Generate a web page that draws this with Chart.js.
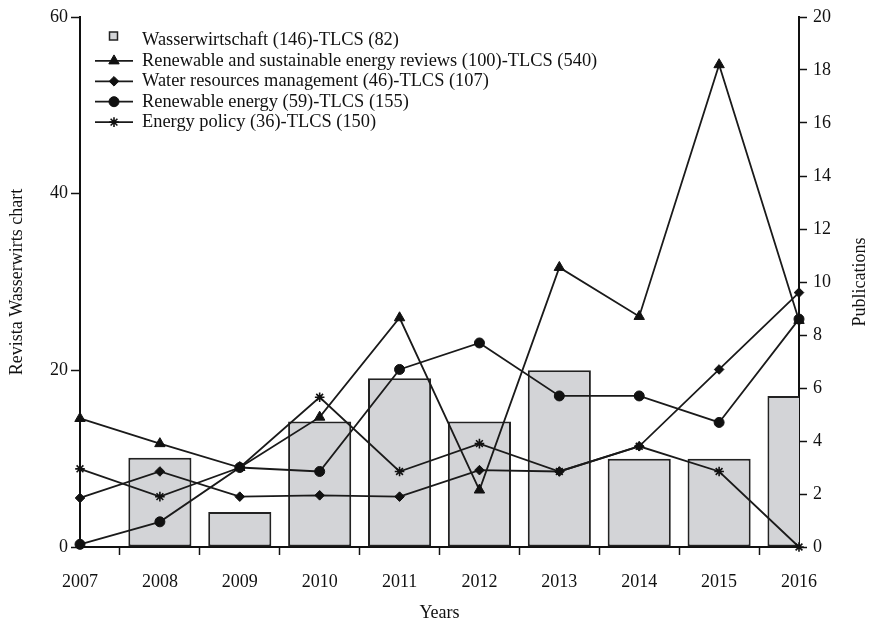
<!DOCTYPE html>
<html>
<head>
<meta charset="utf-8">
<script src="https://cdn.jsdelivr.net/npm/chart.js@4/dist/chart.umd.min.js"></script>
<style>
  body { margin: 0; background: #fff; }
  canvas { display: block; }
</style>
</head>
<body>
<canvas id="chart" width="870" height="624"></canvas>
<script>
const years = ['2007', '2008', '2009', '2010', '2011', '2012', '2013', '2014', '2015', '2016'];

// bars, read on the left axis
const wasserwirtschaft = [null, 10.1, 3.95, 14.2, 19.1, 14.2, 20.0, 10.0, 10.0, 17.1];

// lines, read on the right axis (Publications)
const energyReviews = [4.85, 3.9, 3.0, 4.9, 8.65, 2.15, 10.55, 8.7, 18.2, 8.55];
const waterResources = [1.85, 2.85, 1.9, 1.95, 1.9, 2.9, 2.85, 3.8, 6.7, 9.6];
const renewableEnergy = [0.1, 0.95, 3.0, 2.85, 6.7, 7.7, 5.7, 5.7, 4.7, 8.6];
const energyPolicy = [2.95, 1.9, 3.0, 5.65, 2.85, 3.9, 2.85, 3.8, 2.85, 0];

const labels = [
  'Wasserwirtschaft (146)-TLCS (82)',
  'Renewable and sustainable energy reviews (100)-TLCS (540)',
  'Water resources management (46)-TLCS (107)',
  'Renewable energy (59)-TLCS (155)',
  'Energy policy (36)-TLCS (150)'
];
const rightTitle = 'Publications';

const FONT = '"Liberation Serif", "Times New Roman", serif';
Chart.defaults.font.family = FONT;
Chart.defaults.font.size = 18;
Chart.defaults.color = '#111';

function lineSet(label, data, style, radius, borderWidth) {
  return {
    type: 'line',
    label: label,
    data: data,
    yAxisID: 'y1',
    borderColor: '#1a1a1a',
    borderWidth: 1.8,
    tension: 0,
    fill: false,
    pointStyle: style,
    pointRadius: radius,
    pointHoverRadius: radius,
    pointBorderWidth: borderWidth,
    pointBackgroundColor: '#111',
    pointBorderColor: '#111',
    clip: false,
    order: 1
  };
}

// legend drawn inside the plot, line + marker like the original
// also the right axis title, which reads bottom to top in the original
const cornerLegend = {
  id: 'cornerLegend',
  afterDraw(chart) {
    const ctx = chart.ctx;
    ctx.save();
    ctx.font = '18.4px ' + FONT;
    ctx.textBaseline = 'middle';
    chart.data.datasets.forEach((ds, i) => {
      const y = 40.5 + i * 20.4;
      if (ds.type === 'bar') {
        ctx.fillStyle = ds.backgroundColor;
        ctx.fillRect(109.5, y - 8.5, 8, 8);
        ctx.strokeStyle = '#222';
        ctx.lineWidth = 1.5;
        ctx.strokeRect(109.5, y - 8.5, 8, 8);
      } else {
        ctx.strokeStyle = '#1a1a1a';
        ctx.lineWidth = 1.8;
        ctx.beginPath();
        ctx.moveTo(95, y);
        ctx.lineTo(133, y);
        ctx.stroke();
        ctx.fillStyle = '#111';
        ctx.strokeStyle = '#111';
        ctx.lineWidth = ds.pointBorderWidth;
        Chart.helpers.drawPoint(ctx, {
          pointStyle: ds.pointStyle,
          radius: ds.pointRadius,
          borderWidth: ds.pointBorderWidth,
          rotation: 0
        }, 114, y);
      }
      ctx.fillStyle = '#111';
      ctx.fillText(ds.label, 142, y);
    });

    const area = chart.chartArea;
    ctx.font = '18px ' + FONT;
    ctx.textAlign = 'center';
    ctx.translate(860, (area.top + area.bottom) / 2);
    ctx.rotate(-Math.PI / 2);
    ctx.fillText(rightTitle, 0, 0);
    ctx.restore();
  }
};

const axisGrid = {
  display: true,
  drawOnChartArea: false,
  drawTicks: true,
  tickLength: 8,
  tickColor: '#111',
  tickWidth: 1.5
};

new Chart(document.getElementById('chart'), {
  type: 'bar',
  data: {
    labels: years,
    datasets: [
      {
        type: 'bar',
        label: labels[0],
        data: wasserwirtschaft,
        yAxisID: 'y',
        backgroundColor: '#d3d4d7',
        borderColor: '#222',
        borderWidth: 2,
        borderSkipped: false,
        barPercentage: 0.79,
        categoryPercentage: 1,
        clip: 0,
        order: 10
      },
      lineSet(labels[1], energyReviews, 'triangle', 6, 1),
      lineSet(labels[2], waterResources, 'rectRot', 4.8, 1),
      lineSet(labels[3], renewableEnergy, 'circle', 5, 1),
      lineSet(labels[4], energyPolicy, 'star', 4.8, 1.6)
    ]
  },
  options: {
    responsive: false,
    animation: false,
    layout: { padding: { top: 17, left: 0, right: 0, bottom: 0 } },
    plugins: {
      legend: { display: false },
      tooltip: { enabled: false }
    },
    scales: {
      x: {
        type: 'category',
        offset: false,
        grid: axisGrid,
        border: { display: true, color: '#111', width: 2 },
        ticks: { color: '#111', padding: 16, maxRotation: 0, autoSkip: false },
        title: { display: true, text: 'Years', color: '#111', padding: { top: 0, bottom: 0 } },
        afterFit: (scale) => { scale.height = 77; }
      },
      y: {
        position: 'left',
        min: 0,
        max: 60,
        ticks: { stepSize: 20, color: '#111', padding: 3 },
        grid: Object.assign({}, axisGrid, { tickLength: 9 }),
        border: { display: true, color: '#111', width: 2 },
        title: { display: true, text: 'Revista Wasserwirts chart', color: '#111', padding: { top: 6, bottom: 0 } },
        afterFit: (scale) => { scale.width = 80; }
      },
      y1: {
        position: 'right',
        min: 0,
        max: 20,
        ticks: { stepSize: 2, color: '#111', padding: 6 },
        grid: axisGrid,
        border: { display: true, color: '#111', width: 2 },
        afterFit: (scale) => { scale.width = 71; }
      }
    }
  },
  plugins: [cornerLegend]
});
</script>
</body>
</html>
